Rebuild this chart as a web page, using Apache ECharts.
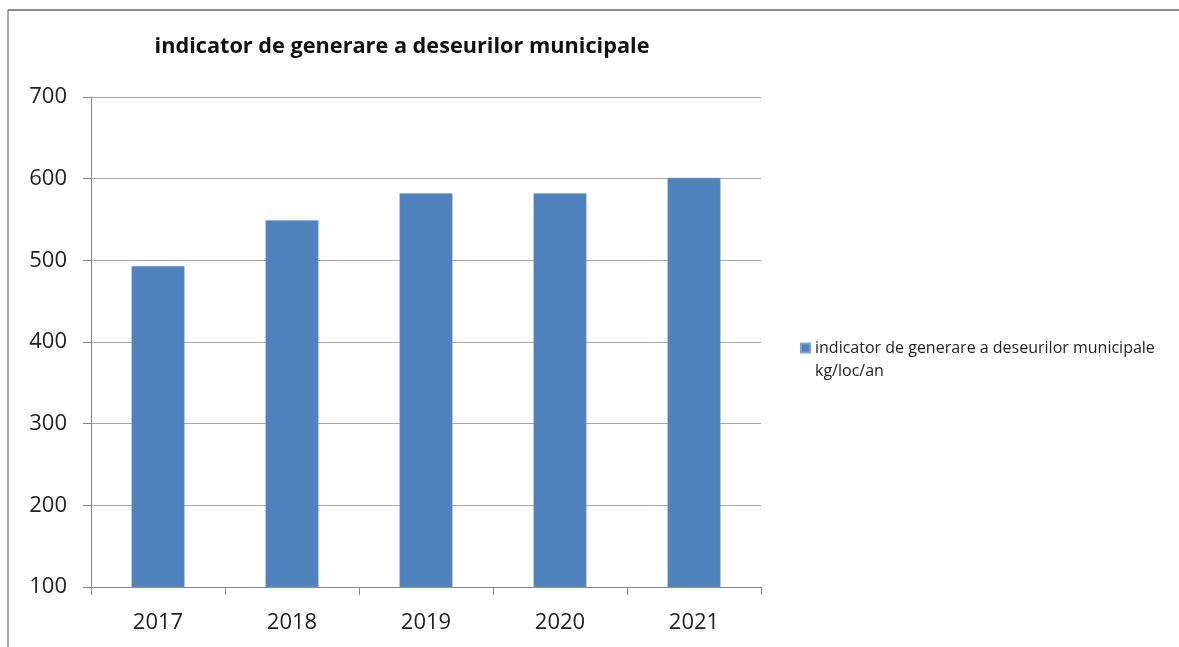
<!DOCTYPE html>
<html>
<head>
<meta charset="utf-8">
<script src="https://cdn.jsdelivr.net/npm/echarts@6/dist/echarts.min.js"></script>
<style>
html,body{margin:0;padding:0;background:#fff;}
#c{width:1179px;height:647px;}
</style>
</head>
<body>
<div id="c"></div>
<script>
const categories = ['2017', '2018', '2019', '2020', '2021'];
const values = [493, 549, 582, 582, 601];
const seriesName = 'indicator de generare a deseurilor municipale kg/loc/an';
const legendLine1 = 'indicator de generare a deseurilor municipale';
const legendLine2 = 'kg/loc/an';
const titleText = 'indicator de generare a deseurilor municipale';

const chart = echarts.init(document.getElementById('c'), null, {renderer: 'canvas'});
chart.setOption({
  animation: false,
  backgroundColor: '#fff',
  title: {
    text: titleText,
    left: 397,
    top: 31,
    textAlign: 'center',
    textStyle: {fontFamily: 'Open Sans', fontWeight: 'bold', fontSize: 21.7, color: '#111'}
  },
  grid: {left: 91, right: 418, top: 97, bottom: 60, containLabel: false},
  legend: {
    left: 800,
    top: 340,
    padding: 0,
    orient: 'vertical',
    icon: 'rect',
    itemWidth: 9,
    itemHeight: 9,
    itemGap: 4,
    data: [seriesName],
    formatter: function () { return legendLine1; },
    textStyle: {fontFamily: 'Open Sans', fontSize: 16, color: '#222'}
  },
  xAxis: {
    type: 'category',
    data: categories,
    axisLine: {lineStyle: {color: '#868686', width: 1}},
    axisTick: {show: true, length: 8, lineStyle: {color: '#868686'}},
    axisLabel: {fontFamily: 'Open Sans', fontSize: 22, color: '#222', margin: 25}
  },
  yAxis: {
    type: 'value',
    min: 100,
    max: 700,
    interval: 100,
    axisLine: {show: true, lineStyle: {color: '#868686', width: 1}},
    axisTick: {show: true, length: 8, lineStyle: {color: '#868686'}},
    axisLabel: {fontFamily: 'Open Sans', fontSize: 22, color: '#222', margin: 24},
    splitLine: {lineStyle: {color: '#a6a6a6', width: 1}}
  },
  series: [{
    name: seriesName,
    type: 'bar',
    data: values,
    barWidth: 53,
    itemStyle: {color: '#4F81BD', borderColor: '#7EA3D3', borderWidth: 0.5}
  }],
  graphic: [
    {type: 'line', shape: {x1: 8, y1: 10, x2: 1179, y2: 10}, style: {stroke: '#8a8a8a', lineWidth: 2}},
    {type: 'line', shape: {x1: 8, y1: 10, x2: 8, y2: 647}, style: {stroke: '#8a8a8a', lineWidth: 1.5}},
    {type: 'text', left: 815, top: 363, style: {text: legendLine2, font: '16px "Open Sans"', fill: '#222'}}
  ]
});
</script>
</body>
</html>
